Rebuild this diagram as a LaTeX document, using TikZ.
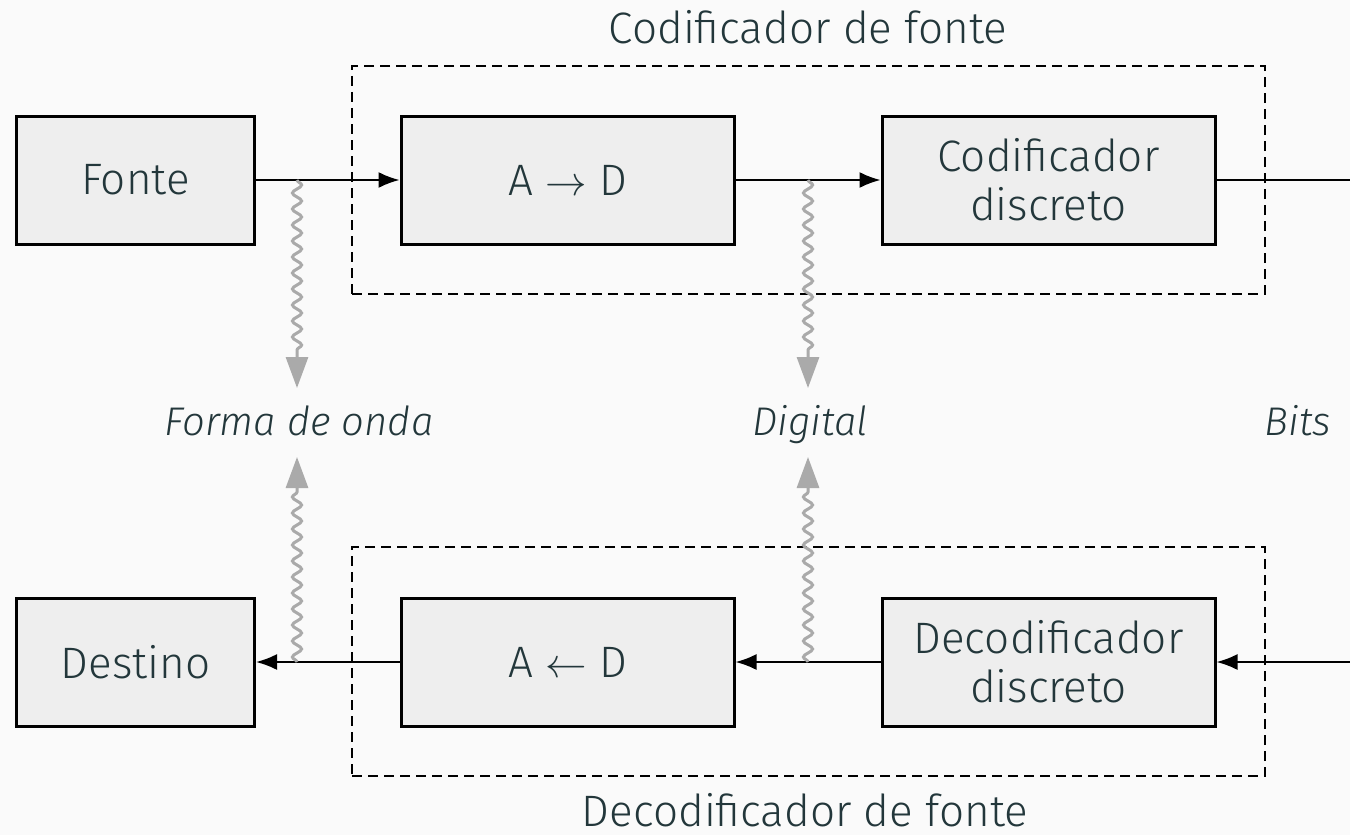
\documentclass[tikz,border=0pt]{standalone}
\usepackage{fontspec}
\IfFontExistsTF{Fira Sans Light Italic}{%
  \IfFontExistsTF{Fira Sans Light}{%
    \setmainfont[ItalicFont={Fira Sans Light Italic}]{Fira Sans Light}}{\setmainfont{Fira Sans}}}{%
  \setmainfont{Fira Sans}}
\usetikzlibrary{arrows.meta,decorations.pathmorphing}
\definecolor{txt}{HTML}{23373B}
\definecolor{bgc}{HTML}{FAFAFA}
\definecolor{boxfill}{HTML}{EEEEEE}
\definecolor{wavc}{HTML}{AAAAAA}
\tikzset{
  blk/.style={draw=black, line width=1.5pt, fill=boxfill, inner sep=0pt,
    minimum width=119pt, minimum height=64pt, align=center},
  wide/.style={blk, minimum width=166.5pt},
  conn/.style={draw=black, line width=1pt, -{Latex[length=10.5pt,width=8pt]}},
  plainconn/.style={draw=black, line width=1pt},
  dsh/.style={draw=black, line width=1pt, dash pattern=on 5pt off 3pt, inner sep=0pt},
  wav/.style={draw=wavc, line width=1.5pt, decorate,
    decoration={snake, amplitude=2.3pt, segment length=8pt, post length=16pt},
    -{Triangle[length=15.5pt,width=11pt]}},
  lbl/.style={anchor=base, inner sep=0pt},
  midlbl/.style={anchor=base, inner sep=0pt, font=\fontsize{20}{24}\selectfont\itshape},
}
\begin{document}
\begin{tikzpicture}[x=0.5pt,y=-0.5pt, font=\fontsize{22}{24.5}\selectfont, text=txt]
\fill[bgc] (0,0) rectangle (1350,835);
\useasboundingbox (0,0) rectangle (1350,835);
% dashed enclosures
\node[dsh, minimum width=456.5pt, minimum height=114pt] (enc) at (808.5,180) {};
\node[dsh, minimum width=456.5pt, minimum height=114.5pt] (dec) at (808.5,661.5) {};
\node[lbl] (enclab) at (808,43) {Codificador de fonte};
\node[lbl] (declab) at (805,826) {Decodificador de fonte};
% top row
\node[blk] (fonte) at (135.5,180) {Fonte};
\node[wide] (ad) at (567.5,180) {A $\rightarrow$ D};
\node[wide] (cod) at (1048.5,180) {Codificador\\discreto};
% bottom row
\node[blk] (destino) at (135.5,662) {Destino};
\node[wide] (da) at (567.5,662) {A $\leftarrow$ D};
\node[wide] (decd) at (1048.5,662) {Decodificador\\discreto};
% middle labels
\node[midlbl] (forma) at (299,435) {Forma de onda};
\node[midlbl] (digital) at (810,435) {Digital};
\node[midlbl] (bits) at (1298,435) {Bits};
% coordinates
\coordinate (outR) at (1350,180);
\coordinate (inR) at (1350,662);
\coordinate (w1) at (297,180);
\coordinate (w1e) at (297,388);
\coordinate (w2) at (808,180);
\coordinate (w2e) at (808,388);
\coordinate (w3) at (297,662);
\coordinate (w3e) at (297,457);
\coordinate (w4) at (808,662);
\coordinate (w4e) at (808,457);
% connectors
\draw[conn] (fonte.east) -- (ad.west);
\draw[conn] (ad.east) -- (cod.west);
\draw[plainconn] (cod.east) -- (outR);
\draw[conn] (inR) -- (decd.east);
\draw[conn] (decd.west) -- (da.east);
\draw[conn] (da.west) -- (destino.east);
% wavy arrows
\draw[wav] (w1) -- (w1e);
\draw[wav] (w2) -- (w2e);
\draw[wav] (w3) -- (w3e);
\draw[wav] (w4) -- (w4e);
\end{tikzpicture}
\end{document}
